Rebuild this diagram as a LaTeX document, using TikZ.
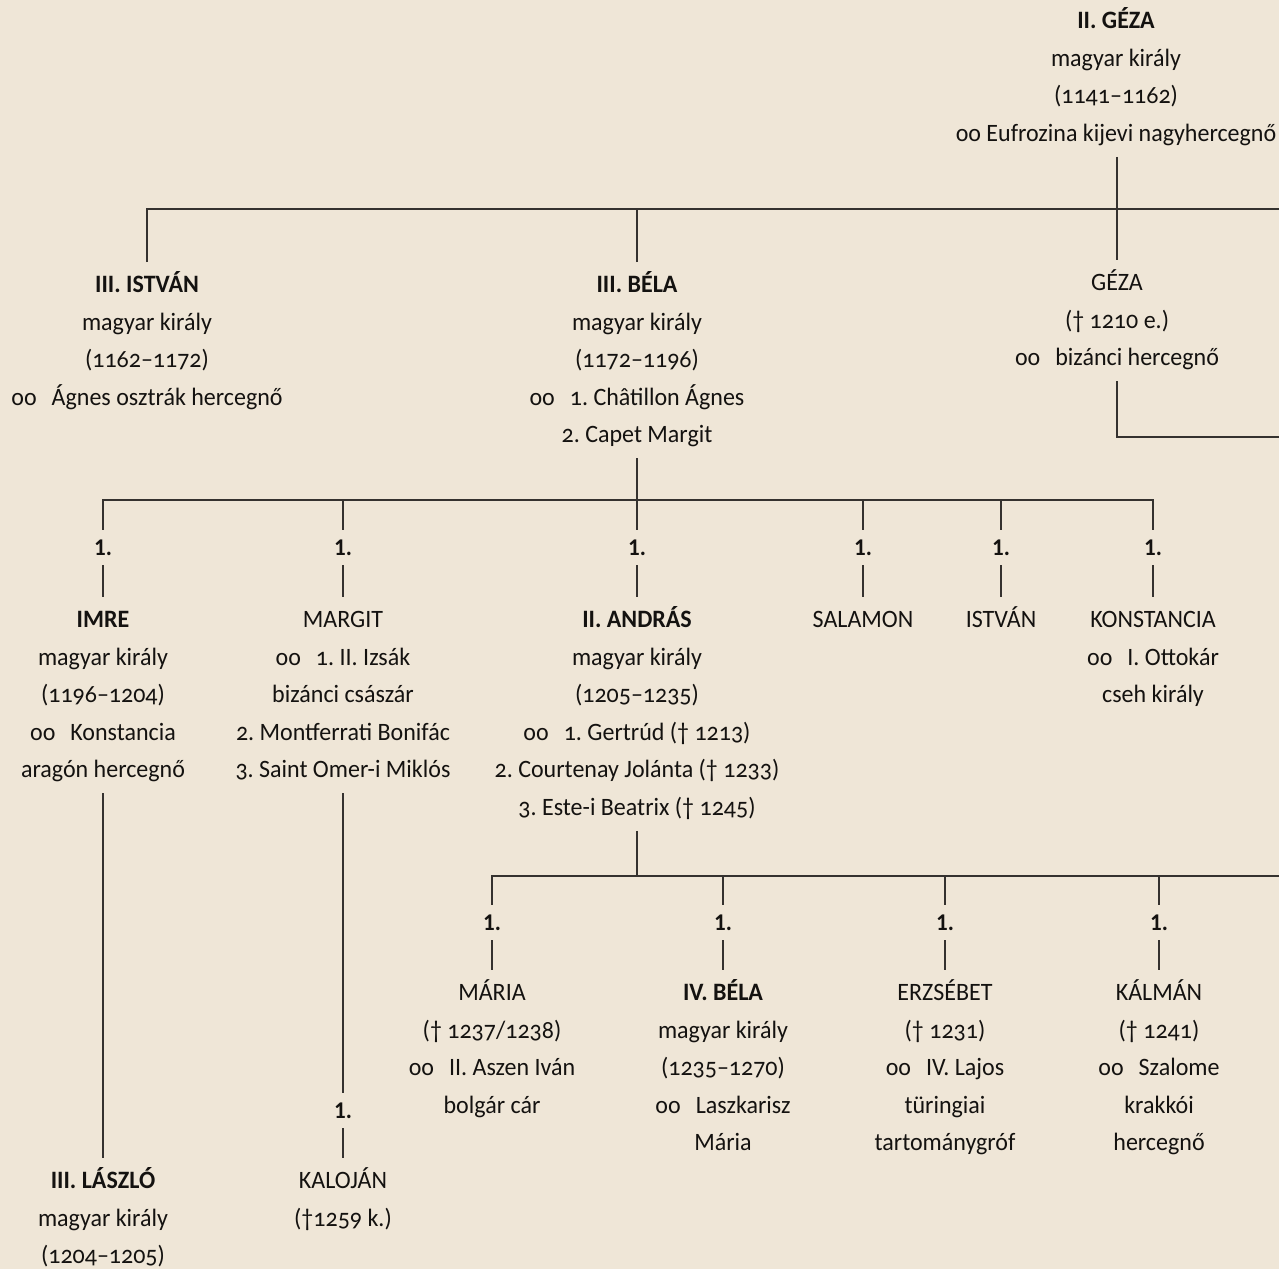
\documentclass[tikz,border=0pt]{standalone}
\usepackage{fontspec}
\setmainfont{Carlito}[Numbers=OldStyle, FakeStretch=0.96]
\usepackage{tikz}
\usetikzlibrary{positioning, calc}
\definecolor{papir}{HTML}{EFE6D7}
\definecolor{tinta}{HTML}{141210}
\definecolor{vonalszin}{HTML}{35322F}
\newcommand{\szoveg}{\fontsize{12.5}{18.75}\selectfont}
\newcommand{\hazas}{oo\hspace{0.6em}}
\frenchspacing
\tikzset{
    szemely/.style={align=center, anchor=north, inner xsep=0pt, inner ysep=2pt,
        font=\szoveg, text=tinta, execute at end node=\strut},
    sorszam/.style={font=\fontsize{12}{12}\selectfont\bfseries\addfontfeatures{Numbers=Lining},
        text=tinta, inner sep=0pt, minimum height=17.5pt},
    vonal/.style={draw=vonalszin, line width=1pt}
}

\begin{document}
\begin{tikzpicture}[x=0.5pt, y=-0.5pt]
        \useasboundingbox (0,0) rectangle (1279,1269);
        \fill[papir] (0,0) rectangle (1279,1269);

        % elso nemzedek
        \node[szemely] (geza2) at (1116,-2) {\strut\textbf{II. GÉZA}\\magyar király\\(1141–1162)\\oo Eufrozina kijevi nagyhercegnő};

        \node[szemely] (istvan3) at (147,262) {\strut\textbf{III. ISTVÁN}\\magyar király\\(1162–1172)\\\hazas Ágnes osztrák hercegnő};
        \node[szemely] (bela3) at (637,262) {\strut\textbf{III. BÉLA}\\magyar király\\(1172–1196)\\\hazas 1. Châtillon Ágnes\\2. Capet Margit};
        \node[szemely] (geza) at (1117,260) {\strut GÉZA\\(† 1210 e.)\\\hazas bizánci hercegnő};

        \coordinate (sor1) at (1279,209);
        \coordinate (gezaki) at (1279,437);
        \draw[vonal] (istvan3.north) |- (sor1);
        \draw[vonal] (bela3.north) -- (bela3.north |- sor1);
        \draw[vonal] (geza2.south -| geza) -- (geza.north);
        \draw[vonal] (geza.south) |- (gezaki);

        % III. Bela gyermekei
        \node[sorszam] (n-imre) at (103,547.5) {1.};
        \node[sorszam] (n-margit) at (343,547.5) {1.};
        \node[sorszam] (n-andras) at (637,547.5) {1.};
        \node[sorszam] (n-salamon) at (863,547.5) {1.};
        \node[sorszam] (n-istvan) at (1001,547.5) {1.};
        \node[sorszam] (n-konst) at (1153,547.5) {1.};

        \node[szemely] (imre) at (103,597) {\strut\textbf{IMRE}\\magyar király\\(1196–1204)\\\hazas Konstancia\\aragón hercegnő};
        \node[szemely] (margit) at (343,597) {\strut MARGIT\\\hazas 1. II. Izsák\\bizánci császár\\2. Montferrati Bonifác\\3. Saint Omer-i Miklós};
        \node[szemely] (andras2) at (637,597) {\strut\textbf{II. ANDRÁS}\\magyar király\\(1205–1235)\\\hazas 1. Gertrúd († 1213)\\2. Courtenay Jolánta († 1233)\\3. Este-i Beatrix († 1245)};
        \node[szemely] (salamon) at (863,597) {\strut SALAMON};
        \node[szemely] (istvan) at (1001,597) {\strut ISTVÁN};
        \node[szemely] (konstancia) at (1153,597) {\strut KONSTANCIA\\\hazas I. Ottokár\\cseh király};

        \coordinate (sor2) at (637,500);
        \draw[vonal] (bela3.south) -- (sor2);
        \draw[vonal] (n-imre.north) |- (sor2) -| (n-konst.north);
        \foreach \n in {n-margit, n-andras, n-salamon, n-istvan}
            \draw[vonal] (\n.north) -- (\n.north |- sor2);
        \foreach \n/\m in {n-imre/imre, n-margit/margit, n-andras/andras2,
                n-salamon/salamon, n-istvan/istvan, n-konst/konstancia}
            \draw[vonal] (\n.south) -- (\m.north);

        % Imre es Margit leszarmazottai
        \node[szemely] (laszlo3) at (103,1158) {\strut\textbf{III. LÁSZLÓ}\\magyar király\\(1204–1205)};
        \node[sorszam] (n-kalojan) at (343,1110.5) {1.};
        \node[szemely] (kalojan) at (343,1158) {\strut KALOJÁN\\(†1259 k.)};
        \draw[vonal] (imre.south) -- (laszlo3.north);
        \draw[vonal] (margit.south) -- (n-kalojan.north);
        \draw[vonal] (n-kalojan.south) -- (kalojan.north);

        % II. Andras gyermekei
        \node[sorszam] (n-maria) at (492,922.5) {1.};
        \node[sorszam] (n-bela4) at (723,922.5) {1.};
        \node[sorszam] (n-erzsebet) at (945,922.5) {1.};
        \node[sorszam] (n-kalman) at (1159,922.5) {1.};

        \node[szemely] (maria) at (492,970) {\strut MÁRIA\\(† 1237/1238)\\\hazas II. Aszen Iván\\bolgár cár};
        \node[szemely] (bela4) at (723,970) {\strut\textbf{IV. BÉLA}\\magyar király\\(1235–1270)\\\hazas Laszkarisz\\Mária};
        \node[szemely] (erzsebet) at (945,970) {\strut ERZSÉBET\\(† 1231)\\\hazas IV. Lajos\\türingiai\\tartománygróf};
        \node[szemely] (kalman) at (1159,970) {\strut KÁLMÁN\\(† 1241)\\\hazas Szalome\\krakkói\\hercegnő};

        \coordinate (sor3) at (1279,876);
        \draw[vonal] (andras2.south) -- (andras2.south |- sor3);
        \draw[vonal] (n-maria.north) |- (sor3);
        \foreach \n in {n-bela4, n-erzsebet, n-kalman}
            \draw[vonal] (\n.north) -- (\n.north |- sor3);
        \foreach \n/\m in {n-maria/maria, n-bela4/bela4, n-erzsebet/erzsebet, n-kalman/kalman}
            \draw[vonal] (\n.south) -- (\m.north);
    \end{tikzpicture}
\end{document}
